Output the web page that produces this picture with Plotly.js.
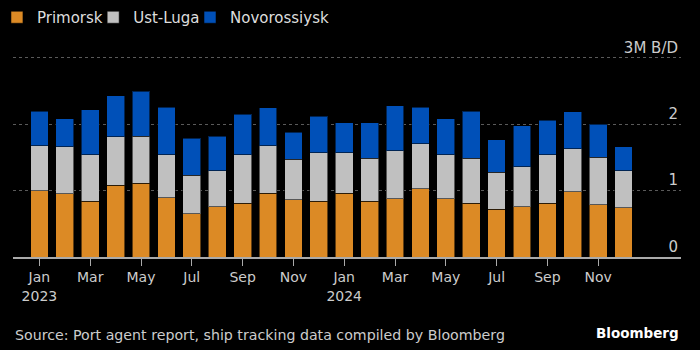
<!DOCTYPE html>
<html>
<head>
<meta charset="utf-8">
<script src="https://cdn.plot.ly/plotly-3.0.1.min.js"></script>
<style>html,body{margin:0;padding:0;background:#000;}#chart{width:700px;height:350px;}</style>
</head>
<body>
<div id="chart"></div>
<script>
const months = ['Jan 2023','Feb 2023','Mar 2023','Apr 2023','May 2023','Jun 2023','Jul 2023','Aug 2023','Sep 2023','Oct 2023','Nov 2023','Dec 2023',
                'Jan 2024','Feb 2024','Mar 2024','Apr 2024','May 2024','Jun 2024','Jul 2024','Aug 2024','Sep 2024','Oct 2024','Nov 2024','Dec 2024'];
const primorsk    = [1.00,0.95,0.84,1.08,1.11,0.89,0.65,0.76,0.81,0.96,0.86,0.84, 0.96,0.84,0.88,1.03,0.88,0.81,0.72,0.76,0.81,0.98,0.79,0.74];
const ustLuga     = [0.68,0.71,0.70,0.73,0.71,0.65,0.58,0.54,0.73,0.72,0.61,0.73, 0.61,0.65,0.72,0.68,0.66,0.68,0.56,0.60,0.73,0.65,0.71,0.56];
const novorossiysk= [0.52,0.42,0.68,0.62,0.68,0.72,0.56,0.52,0.61,0.57,0.41,0.55, 0.45,0.53,0.68,0.55,0.54,0.71,0.49,0.62,0.52,0.56,0.50,0.36];
const xTickLabels = ['Jan<br>2023','Mar','May','Jul','Sep','Nov','Jan<br>2024','Mar','May','Jul','Sep','Nov'];
const yTickVals = [0,1,2,3];
const yTickText = ['0','1','2','3M B/D'];

const idx = months.map((_, i) => i);
const tickIdx = xTickLabels.map((_, i) => i * 2);
const font = 'DejaVu Sans, sans-serif';
const lineStyle = {color: 'rgba(0,0,0,0.55)', width: 1};

const series = [
  {name: 'Primorsk', y: primorsk, color: '#DC8A25', legend: 'legend'},
  {name: 'Ust-Luga', y: ustLuga, color: '#C0C0C0', legend: 'legend2'},
  {name: 'Novorossiysk', y: novorossiysk, color: '#0050B8', legend: 'legend3'}
];
const traces = series.map(s => ({
  type: 'bar', x: idx, y: s.y, name: s.name, customdata: months, legend: s.legend,
  marker: {color: s.color, line: lineStyle},
  hovertemplate: '%{customdata}: %{y}<extra>' + s.name + '</extra>'
}));

const legendBase = {orientation: 'h', xanchor: 'left', y: 1.169, yanchor: 'top',
  font: {family: font, size: 15, color: '#dddddd'}, bgcolor: 'rgba(0,0,0,0)'};

const layout = {
  width: 700, height: 350,
  paper_bgcolor: '#000', plot_bgcolor: '#000',
  barmode: 'stack', bargap: 0.3,
  margin: {l: 13, r: 19, t: 38, b: 93, autoexpand: false},
  font: {family: font, color: '#cccccc', size: 14},
  showlegend: true,
  legend: Object.assign({}, legendBase, {x: -0.024}),
  legend2: Object.assign({}, legendBase, {x: 0.12}),
  legend3: Object.assign({}, legendBase, {x: 0.265}),
  xaxis: {
    range: [-1.04, 25.26], tickmode: 'array', tickvals: tickIdx, ticktext: xTickLabels,
    showgrid: false, zeroline: false, showline: true, linecolor: '#aaaaaa', linewidth: 1.5,
    ticks: 'outside', ticklen: 7, tickcolor: '#aaaaaa', tickwidth: 1,
    tickfont: {family: font, size: 14, color: '#cccccc'}, fixedrange: true
  },
  yaxis: {
    range: [0, 3.3], side: 'right', tickmode: 'array', tickvals: yTickVals, ticktext: yTickText,
    ticklabelposition: 'inside top', ticks: '',
    showgrid: true, gridcolor: '#5a5a5a', griddash: 'dot', gridwidth: 1,
    zeroline: false, showline: false,
    tickfont: {family: font, size: 15, color: '#cccccc'}, fixedrange: true
  },
  annotations: [
    {xref: 'paper', yref: 'paper', x: 0, y: -0.356, xanchor: 'left', yanchor: 'middle',
     text: 'Source: Port agent report, ship tracking data compiled by Bloomberg', showarrow: false,
     font: {family: font, size: 14.2, color: '#cccccc'}},
    {xref: 'paper', yref: 'paper', x: 1, y: -0.347, xanchor: 'right', yanchor: 'middle',
     text: '<b>Bloomberg</b>', showarrow: false,
     font: {family: font, size: 13.5, color: '#ffffff'}}
  ]
};

Plotly.newPlot('chart', traces, layout, {displayModeBar: false, staticPlot: true});
</script>
</body>
</html>
